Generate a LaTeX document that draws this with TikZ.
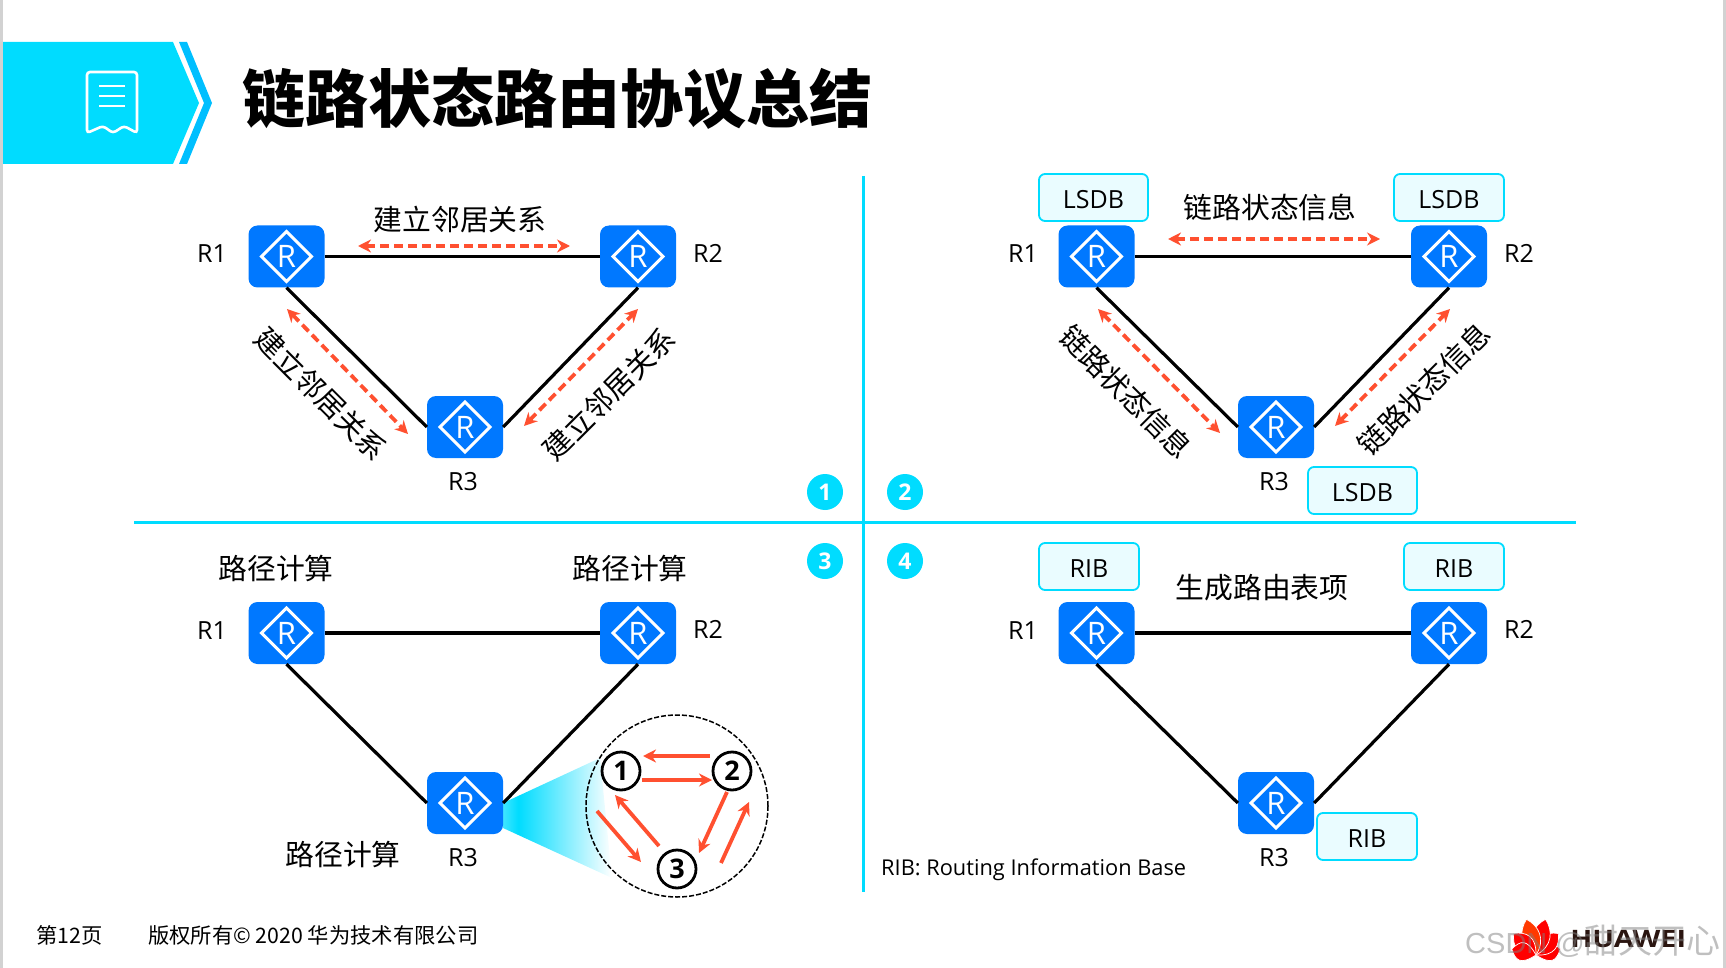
\documentclass[tikz,border=0pt]{standalone}
\usepackage{fontspec}
\setmainfont{Open Sans}
\newfontfamily\cjkfont{Noto Sans CJK SC}
\newfontfamily\cjkblack{Noto Sans CJK SC Black}
\newfontfamily\marksans{Liberation Sans}
\usetikzlibrary{arrows.meta,positioning,shapes.geometric,calc}
\definecolor{hwcyan}{HTML}{00DCFF}
\definecolor{hwsky}{HTML}{00BFFF}
\definecolor{hwblue}{HTML}{0078FF}
\definecolor{hwred}{HTML}{FF5030}
\definecolor{hwpale}{HTML}{EAFCFF}
\definecolor{hwbrown}{HTML}{2A1510}
\pgfdeclarehorizontalshading{conefade}{100bp}{color(0bp)=(hwcyan!75); color(25bp)=(hwcyan!75); color(32bp)=(hwcyan); color(75bp)=(white); color(100bp)=(white)}
\begin{document}
\begin{tikzpicture}[
    x=1pt,y=-1pt,
    router/.style={fill=hwblue,rounded corners=9pt,minimum width=76pt,minimum height=62pt,inner sep=0pt,text=white,
      font=\fontsize{31}{31}\selectfont,
      path picture={\draw[white,line width=3pt,sharp corners] ($(path picture bounding box.center)+(-25,0)$) -- ++(25,-25) -- ++(25,25) -- ++(-25,25) -- cycle;}},
    tag/.style={font=\fontsize{25}{25}\selectfont,inner sep=0pt},
    cnlabel/.style={font=\cjkfont\fontsize{28.8}{29}\selectfont,inner sep=0pt},
    dbbox/.style={draw=hwcyan,line width=1.8pt,fill=hwpale,rounded corners=6pt,minimum height=47pt,inner sep=0pt,text height=22pt,text depth=0pt,font=\fontsize{25}{25}\selectfont},
    badge/.style={circle,fill=hwcyan,text=white,minimum size=36pt,inner sep=0pt,font=\bfseries\fontsize{23}{23}\selectfont},
    spf/.style={circle,draw=black,line width=2.8pt,fill=white,minimum size=38pt,inner sep=0pt,font=\bfseries\fontsize{27}{27}\selectfont},
    link/.style={line width=3.2pt,black},
    flood/.style={{Stealth[length=13pt,width=13pt]}-{Stealth[length=13pt,width=13pt]},hwred,line width=3.8pt,dash pattern=on 9pt off 5pt},
    calc/.style={-{Stealth[length=13pt,width=13pt]},hwred,line width=3.8pt},
    sep/.style={hwcyan,line width=3pt},
    petal/.style={draw=white,line width=0.7pt}
  ]
  \useasboundingbox (0,0) rectangle (1726,968);
  \fill[gray!35] (0,0) rectangle (3,968);
  \fill[gray!35] (1723,0) rectangle (1726,968);

  % banner
  \fill[hwcyan] (3,42) -- (173,42) -- (199,103) -- (173,164) -- (3,164) -- cycle;
  \fill[hwsky] (179,42) -- (187,42) -- (212,103) -- (187,164) -- (179,164) -- (204,103) -- cycle;
  \draw[white,line width=2.6pt,rounded corners=3pt] (87,72) -- (137,72) -- (137,133) -- (124,126) -- (113,133) -- (103,126) -- (87,133) -- cycle;
  \draw[white,line width=2.4pt] (99,86) -- (125,86) (99,96) -- (125,96) (99,106) -- (125,106);
  \node[anchor=west,inner sep=0pt,font=\cjkblack\fontsize{63}{63}\selectfont] (title) at (242,99) {链路状态路由协议总结};

  % separators
  \coordinate (vtop) at (863,176);
  \coordinate (vbot) at (863,892);
  \coordinate (hleft) at (134,522);
  \coordinate (hright) at (1576,522);
  \draw[sep] (vtop) -- (vbot);
  \draw[sep] (hleft) -- (hright);
  \node[badge] (b1) at (825,492) {1};
  \node[badge] (b2) at (905,492) {2};
  \node[badge] (b3) at (825,561) {3};
  \node[badge] (b4) at (905,561) {4};

  % panel 1
  \node[router] (a1) at (286.5,256.5) {R};
  \node[router] (a2) at (638,256.5) {R};
  \node[router] (a3) at (465,427) {R};
  \draw[link] (a1) -- (a2);
  \draw[link] (a1.south) -- (a3.west);
  \draw[link] (a2.south) -- (a3.east);
  \node[tag] (la1) at (212,254) {R1};
  \node[tag] (la2) at (708,253) {R2};
  \node[tag] (la3) at (463,482) {R3};
  \node[cnlabel] (ta) at (460,219) {建立邻居关系};
  \node[cnlabel,rotate=-45] (tb) at (321,394) {建立邻居关系};
  \node[cnlabel,rotate=45] (tc) at (609,394) {建立邻居关系};
  \coordinate (fa1) at (358,246); \coordinate (fa2) at (570,246);
  \coordinate (fa3) at (287,309); \coordinate (fa4) at (408,434);
  \coordinate (fa5) at (524,426); \coordinate (fa6) at (638,309);
  \draw[flood] (fa1) -- (fa2);
  \draw[flood] (fa3) -- (fa4);
  \draw[flood] (fa5) -- (fa6);

  % panel 2
  \node[router] (c1) at (1096.5,256.5) {R};
  \node[router] (c2) at (1449,256.5) {R};
  \node[router] (c3) at (1276,427) {R};
  \draw[link] (c1) -- (c2);
  \draw[link] (c1.south) -- (c3.west);
  \draw[link] (c2.south) -- (c3.east);
  \node[tag] (lc1) at (1023,254) {R1};
  \node[tag] (lc2) at (1519,253) {R2};
  \node[tag] (lc3) at (1274,482) {R3};
  \node[dbbox,minimum width=109pt] (d1) at (1093.5,197.5) {LSDB};
  \node[dbbox,minimum width=110pt] (d2) at (1449,197.5) {LSDB};
  \node[dbbox,minimum width=109pt] (d3) at (1362.5,490.5) {LSDB};
  \node[cnlabel] (td) at (1270,207) {链路状态信息};
  \node[cnlabel,rotate=-45] (te) at (1126,392) {链路状态信息};
  \node[cnlabel,rotate=45] (tf) at (1424,389) {链路状态信息};
  \coordinate (fc1) at (1168,239); \coordinate (fc2) at (1380,239);
  \coordinate (fc3) at (1098,309); \coordinate (fc4) at (1220,433);
  \coordinate (fc5) at (1335,426); \coordinate (fc6) at (1450,309);
  \draw[flood] (fc1) -- (fc2);
  \draw[flood] (fc3) -- (fc4);
  \draw[flood] (fc5) -- (fc6);

  % panel 3
  \shade[shading=conefade] (503,803) -- (600,758) -- (612,878) -- (503,828) -- cycle;
  \node[router] (e1) at (286.5,633) {R};
  \node[router] (e2) at (638,633) {R};
  \node[router] (e3) at (465,803) {R};
  \draw[link] (e1) -- (e2);
  \draw[link] (e1.south) -- (e3.west);
  \draw[link] (e2.south) -- (e3.east);
  \node[tag] (le1) at (212,631) {R1};
  \node[tag] (le2) at (708,629) {R2};
  \node[tag] (le3) at (463,858) {R3};
  \node[cnlabel] (tg) at (276,568) {路径计算};
  \node[cnlabel] (th) at (630,568) {路径计算};
  \node[cnlabel] (ti) at (343,854) {路径计算};
  \node[circle,draw=black,line width=1.5pt,dash pattern=on 5pt off 2pt,minimum size=182pt,inner sep=0pt] (zoomc) at (677,806) {};
  \node[spf] (s1) at (621,771) {1};
  \node[spf] (s2) at (732,771) {2};
  \node[spf] (s3) at (677,869) {3};
  \coordinate (p1) at (710,756); \coordinate (p2) at (643,756);
  \coordinate (p3) at (642,780); \coordinate (p4) at (712,780);
  \coordinate (p5) at (659,846); \coordinate (p6) at (615,795);
  \coordinate (p7) at (597,811); \coordinate (p8) at (641,862);
  \coordinate (p9) at (727,792); \coordinate (p10) at (699,853);
  \coordinate (p11) at (721,863); \coordinate (p12) at (749,802);
  \foreach \from/\to in {p1/p2,p3/p4,p5/p6,p7/p8,p9/p10,p11/p12}
    \draw[calc] (\from) -- (\to);

  % panel 4
  \node[router] (g1) at (1096.5,633) {R};
  \node[router] (g2) at (1449,633) {R};
  \node[router] (g3) at (1276,803) {R};
  \draw[link] (g1) -- (g2);
  \draw[link] (g1.south) -- (g3.west);
  \draw[link] (g2.south) -- (g3.east);
  \node[tag] (lg1) at (1023,631) {R1};
  \node[tag] (lg2) at (1519,629) {R2};
  \node[tag] (lg3) at (1274,858) {R3};
  \node[dbbox,minimum width=100pt] (r1) at (1089,566.5) {RIB};
  \node[dbbox,minimum width=100pt] (r2) at (1454,566.5) {RIB};
  \node[dbbox,minimum width=100pt] (r3) at (1367,836.5) {RIB};
  \node[cnlabel] (tj) at (1262,588) {生成路由表项};
  \node[tag,anchor=west,font=\fontsize{21.8}{22}\selectfont] (note) at (881,869.5) {RIB: Routing Information Base};

  % footer
  \node[anchor=west,inner sep=0pt,font=\cjkfont\fontsize{21.3}{22}\selectfont] (page) at (36,935) {第12页};
  \node[anchor=west,inner sep=0pt,font=\cjkfont\fontsize{21.3}{22}\selectfont] (copyr) at (148,935) {版权所有© 2020 华为技术有限公司};
  \foreach \ang/\len/\col in {-76/25/red,-46/31/red,-15/37/red,15/37/red!55!orange,46/31/red,76/25/red}
    \fill[\col,petal,rotate around={\ang:(1536,955)}] (1536,955) .. controls (1522,942) and (1526,955-0.75*\len) .. (1536,955-\len) .. controls (1546,955-0.75*\len) and (1550,942) .. (1536,955) -- cycle;
  \node[anchor=west,inner sep=0pt,xscale=1.2,font=\bfseries\fontsize{24}{24}\selectfont,text=hwbrown] (brand) at (1570,939.5) {HUAWEI};
  \node[anchor=west,inner sep=0pt,text=gray,opacity=0.5,font=\cjkfont\fontsize{34}{34}\selectfont] (mark) at (1465,941) {{\marksans\fontsize{29}{29}\selectfont CSDN @}甜天开心};
\end{tikzpicture}
\end{document}
